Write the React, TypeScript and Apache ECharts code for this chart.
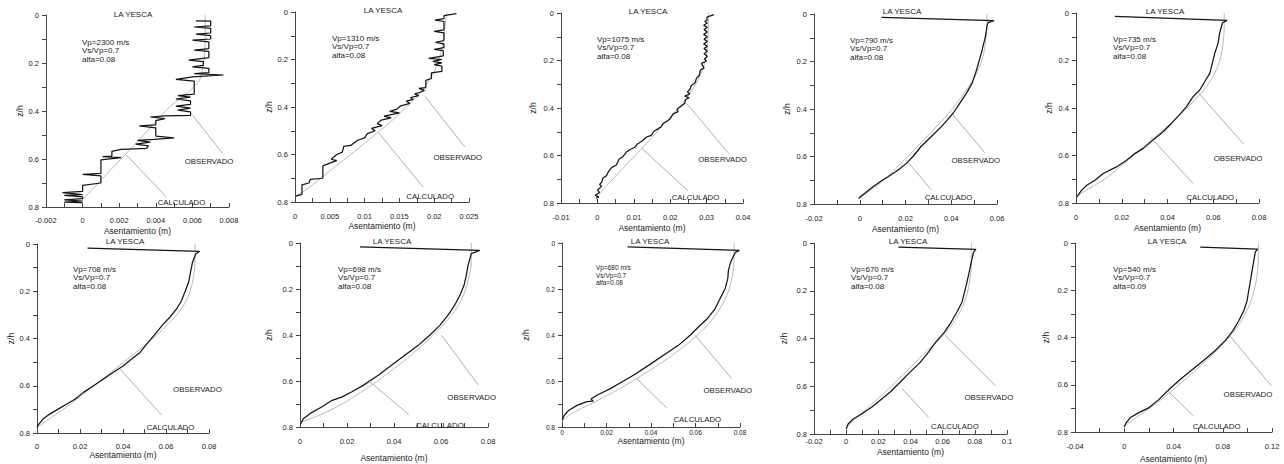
import React, { useEffect, useRef } from "react";
import * as echarts from "echarts";

// ---------- DATA ----------
const vpValues = ["2300", "1310", "1075", "790", "735", "708", "698", "680", "670", "540"];
const vsVp = "0.7";
const alfaValues = ["0.08", "0.08", "0.08", "0.08", "0.08", "0.08", "0.08", "0.08", "0.08", "0.09"];
const siteName = "LA YESCA";
const xAxisName = "Asentamiento (m)";
const yAxisName = "z/h";
const obsName = "OBSERVADO";
const calcName = "CALCULADO";

const xMins = [-0.002, 0, -0.01, -0.02, 0, 0, 0, 0, -0.02, -0.04];
const xMaxs = [0.008, 0.025, 0.04, 0.06, 0.08, 0.08, 0.08, 0.08, 0.1, 0.12];
const xSteps = [0.002, 0.005, 0.01, 0.02, 0.02, 0.02, 0.02, 0.02, 0.02, 0.04];
const yMin = 0;
const yMax = 0.8;
const yStep = 0.2;

const obs1 = [[0.0062,0.024],[0.0070,0.026],[0.0070,0.045],[0.0061,0.050],[0.0070,0.056],[0.0070,0.075],[0.0062,0.080],[0.0070,0.086],[0.0070,0.100],[0.0060,0.105],[0.0069,0.112],[0.0069,0.140],[0.0061,0.146],[0.0069,0.152],[0.0069,0.178],[0.0058,0.188],[0.0066,0.194],[0.0066,0.210],[0.0060,0.216],[0.0069,0.222],[0.0069,0.240],[0.0061,0.244],[0.0077,0.250],[0.0060,0.258],[0.0051,0.268],[0.0061,0.276],[0.0061,0.330],[0.0052,0.336],[0.0059,0.342],[0.0051,0.350],[0.0059,0.358],[0.0059,0.372],[0.0051,0.380],[0.0059,0.388],[0.0052,0.396],[0.0059,0.404],[0.0059,0.418],[0.0045,0.420],[0.0037,0.425],[0.0045,0.432],[0.0040,0.440],[0.0040,0.458],[0.0031,0.462],[0.0040,0.470],[0.0040,0.505],[0.0050,0.512],[0.0039,0.518],[0.0030,0.522],[0.0037,0.530],[0.0029,0.538],[0.0036,0.545],[0.0035,0.556],[0.0021,0.560],[0.0016,0.568],[0.0016,0.588],[0.0011,0.590],[0.0021,0.594],[0.0010,0.604],[0.0010,0.660],[0.0000,0.664],[0.0010,0.670],[0.0010,0.700],[0.0000,0.710],[0.0000,0.735],[-0.0011,0.740],[0.0000,0.748],[-0.0010,0.752],[0.0000,0.758],[0.0000,0.765],[-0.0010,0.770],[0.0000,0.775],[-0.0010,0.780],[0.0000,0.782]];
const calc1 = [[0.0067,0],[0.0067,0.1],[0.0066,0.2],[0.0064,0.27],[0.0058,0.32],[0.0048,0.38],[0.0037,0.47],[0.0026,0.56],[0.00135,0.66],[0,0.77]];

const obs2 = [[0.0232,0.007],[0.0214,0.015],[0.0214,0.028],[0.0201,0.034],[0.0214,0.040],[0.0214,0.075],[0.0200,0.082],[0.0214,0.088],[0.0214,0.120],[0.0202,0.128],[0.0214,0.134],[0.0214,0.150],[0.0200,0.157],[0.0213,0.163],[0.0213,0.185],[0.0192,0.195],[0.0211,0.200],[0.0198,0.208],[0.0211,0.214],[0.0200,0.222],[0.0211,0.228],[0.0211,0.250],[0.0196,0.256],[0.0196,0.280],[0.0188,0.288],[0.0188,0.318],[0.0178,0.322],[0.0186,0.330],[0.0180,0.338],[0.0172,0.345],[0.0178,0.352],[0.0166,0.360],[0.0170,0.368],[0.0160,0.375],[0.0165,0.385],[0.0152,0.395],[0.0146,0.410],[0.0136,0.418],[0.0150,0.425],[0.0128,0.438],[0.0138,0.446],[0.0124,0.455],[0.0118,0.470],[0.0125,0.478],[0.0110,0.490],[0.0115,0.500],[0.0104,0.512],[0.0100,0.530],[0.0090,0.540],[0.0080,0.562],[0.0070,0.566],[0.0068,0.590],[0.0060,0.600],[0.0052,0.620],[0.0060,0.626],[0.0052,0.634],[0.0040,0.648],[0.0040,0.700],[0.0022,0.705],[0.0020,0.720],[0.0010,0.728],[0.0010,0.768],[0.0000,0.776]];
const calc2 = [[0.0218,0],[0.0216,0.05],[0.0214,0.1],[0.0211,0.15],[0.0207,0.2],[0.0200,0.25],[0.0190,0.3],[0.0177,0.35],[0.0160,0.4],[0.0142,0.45],[0.0122,0.5],[0.0101,0.55],[0.0080,0.6],[0.0058,0.65],[0.0037,0.7],[0.0015,0.75],[0,0.775]];

const obs3 = [[0.0320,0.007],[0.0301,0.017],[0.0301,0.030],[0.0295,0.036],[0.0302,0.042],[0.0292,0.052],[0.0302,0.060],[0.0293,0.070],[0.0302,0.080],[0.0292,0.090],[0.0302,0.100],[0.0293,0.110],[0.0302,0.120],[0.0292,0.130],[0.0302,0.140],[0.0293,0.150],[0.0302,0.160],[0.0293,0.172],[0.0302,0.182],[0.0294,0.194],[0.0300,0.202],[0.0286,0.212],[0.0293,0.232],[0.0283,0.240],[0.0280,0.262],[0.0272,0.275],[0.0268,0.295],[0.0258,0.305],[0.0254,0.322],[0.0247,0.332],[0.0254,0.340],[0.0240,0.350],[0.0252,0.357],[0.0242,0.365],[0.0240,0.380],[0.0225,0.398],[0.0218,0.405],[0.0222,0.415],[0.0208,0.425],[0.0200,0.445],[0.0192,0.455],[0.0180,0.465],[0.0176,0.478],[0.0164,0.490],[0.0155,0.498],[0.0148,0.515],[0.0135,0.522],[0.0124,0.538],[0.0110,0.552],[0.0103,0.565],[0.0090,0.575],[0.0080,0.585],[0.0070,0.605],[0.0060,0.615],[0.0052,0.640],[0.0040,0.650],[0.0030,0.668],[0.0025,0.685],[0.0015,0.695],[0.0012,0.712],[0.0006,0.722],[0.0012,0.730],[0.0000,0.745],[0.0006,0.755],[-0.0006,0.768],[0.0004,0.775],[-0.0004,0.780]];
const calc3 = [[0.0305,0],[0.0304,0.1],[0.0297,0.2],[0.0280,0.27],[0.0258,0.33],[0.0228,0.39],[0.0193,0.45],[0.0158,0.51],[0.0122,0.57],[0.0085,0.63],[0.0048,0.69],[0.0015,0.745],[0,0.775]];

const obs4 = [[0.0095,0.014],[0.0587,0.028],[0.0561,0.036],[0.0556,0.050],[0.0554,0.067],[0.0550,0.090],[0.0546,0.110],[0.0540,0.130],[0.0535,0.152],[0.0525,0.187],[0.0518,0.210],[0.0506,0.250],[0.0491,0.292],[0.0466,0.334],[0.0437,0.376],[0.0408,0.418],[0.0383,0.446],[0.0357,0.474],[0.0313,0.516],[0.0267,0.559],[0.0233,0.600],[0.0204,0.629],[0.0168,0.657],[0.0124,0.685],[0.0100,0.699],[0.0058,0.727],[0.0022,0.755],[0.0000,0.772],[-0.0004,0.778]];
const calc4 = [[0.0556,0],[0.0556,0.05],[0.0552,0.1],[0.0545,0.15],[0.0532,0.2],[0.0510,0.25],[0.0480,0.3],[0.0444,0.35],[0.0405,0.4],[0.0358,0.45],[0.0310,0.5],[0.0260,0.55],[0.0210,0.6],[0.0158,0.65],[0.0105,0.7],[0.0050,0.74],[0,0.775]];

const obs5 = [[0.0170,0.014],[0.0660,0.031],[0.0640,0.042],[0.0635,0.060],[0.0628,0.085],[0.0621,0.127],[0.0607,0.169],[0.0596,0.211],[0.0585,0.254],[0.0567,0.282],[0.0541,0.324],[0.0512,0.352],[0.0483,0.394],[0.0451,0.430],[0.0417,0.465],[0.0381,0.500],[0.0337,0.535],[0.0294,0.570],[0.0257,0.592],[0.0221,0.620],[0.0177,0.648],[0.0119,0.676],[0.0083,0.704],[0.0047,0.725],[0.0025,0.746],[0.0003,0.775]];
const calc5 = [[0.0648,0],[0.0648,0.05],[0.0646,0.1],[0.0640,0.15],[0.0628,0.2],[0.0608,0.25],[0.0578,0.3],[0.0535,0.35],[0.0485,0.4],[0.0430,0.45],[0.0372,0.5],[0.0312,0.55],[0.0252,0.6],[0.0190,0.65],[0.0125,0.7],[0.0055,0.74],[0,0.775]];

const obs6 = [[0.0235,0.017],[0.0757,0.031],[0.0738,0.042],[0.0723,0.078],[0.0714,0.120],[0.0705,0.162],[0.0687,0.205],[0.0672,0.240],[0.0649,0.275],[0.0618,0.310],[0.0587,0.339],[0.0556,0.374],[0.0517,0.416],[0.0479,0.459],[0.0440,0.487],[0.0402,0.515],[0.0355,0.543],[0.0309,0.571],[0.0263,0.600],[0.0216,0.628],[0.0178,0.656],[0.0139,0.677],[0.0100,0.698],[0.0059,0.720],[0.0028,0.741],[0.0009,0.762],[0.0000,0.776]];
const calc6 = [[0.0735,0],[0.0735,0.05],[0.0733,0.1],[0.0726,0.15],[0.0712,0.2],[0.0688,0.25],[0.0650,0.3],[0.0598,0.35],[0.0538,0.4],[0.0472,0.45],[0.0403,0.5],[0.0335,0.55],[0.0265,0.6],[0.0195,0.65],[0.0122,0.7],[0.0050,0.745],[0,0.776]];

const obs7 = [[0.0255,0.017],[0.0765,0.032],[0.0729,0.046],[0.0715,0.097],[0.0708,0.140],[0.0698,0.184],[0.0680,0.228],[0.0658,0.271],[0.0630,0.314],[0.0595,0.358],[0.0552,0.401],[0.0503,0.445],[0.0446,0.488],[0.0389,0.532],[0.0333,0.575],[0.0269,0.619],[0.0219,0.648],[0.0177,0.670],[0.0137,0.684],[0.0092,0.713],[0.0042,0.742],[0.0014,0.764],[0.0003,0.786]];
const calc7 = [[0.0729,0],[0.0728,0.1],[0.0718,0.15],[0.0705,0.2],[0.0685,0.25],[0.0655,0.3],[0.0615,0.35],[0.0568,0.4],[0.0515,0.45],[0.0458,0.5],[0.0395,0.55],[0.0330,0.6],[0.0258,0.65],[0.0180,0.7],[0.0080,0.75],[0,0.78]];

const obs8 = [[0.0295,0.017],[0.0797,0.032],[0.0778,0.042],[0.0758,0.083],[0.0748,0.119],[0.0745,0.155],[0.0733,0.199],[0.0710,0.242],[0.0688,0.286],[0.0653,0.329],[0.0613,0.365],[0.0576,0.401],[0.0523,0.445],[0.0456,0.488],[0.0389,0.532],[0.0321,0.575],[0.0269,0.604],[0.0217,0.633],[0.0157,0.662],[0.0130,0.678],[0.0140,0.688],[0.0112,0.690],[0.0067,0.706],[0.0030,0.728],[0.0010,0.749],[0.0001,0.771]];
const calc8 = [[0.0773,0],[0.0772,0.1],[0.0764,0.15],[0.0752,0.2],[0.0730,0.25],[0.0700,0.3],[0.0660,0.35],[0.0610,0.4],[0.0548,0.45],[0.0478,0.5],[0.0400,0.55],[0.0318,0.6],[0.0228,0.65],[0.0130,0.7],[0.0045,0.74],[0,0.775]];

const obs9 = [[0.0324,0.017],[0.0807,0.027],[0.0792,0.038],[0.0778,0.080],[0.0765,0.122],[0.0751,0.164],[0.0736,0.206],[0.0720,0.248],[0.0688,0.290],[0.0653,0.331],[0.0611,0.373],[0.0557,0.415],[0.0512,0.457],[0.0460,0.500],[0.0397,0.541],[0.0335,0.583],[0.0272,0.625],[0.0210,0.660],[0.0158,0.688],[0.0096,0.716],[0.0044,0.737],[0.0012,0.758],[0.0000,0.779]];
const calc9 = [[0.0778,0],[0.0778,0.1],[0.0770,0.15],[0.0757,0.2],[0.0733,0.25],[0.0699,0.3],[0.0648,0.35],[0.0585,0.4],[0.0505,0.45],[0.0432,0.5],[0.0355,0.55],[0.0280,0.6],[0.0200,0.65],[0.0118,0.7],[0.0050,0.74],[0,0.775]];

const obs10 = [[0.0617,0.017],[0.1084,0.026],[0.1064,0.038],[0.1051,0.079],[0.1037,0.121],[0.1024,0.163],[0.1010,0.205],[0.0997,0.246],[0.0970,0.288],[0.0929,0.330],[0.0883,0.371],[0.0820,0.413],[0.0739,0.455],[0.0644,0.497],[0.0549,0.538],[0.0449,0.580],[0.0359,0.622],[0.0278,0.664],[0.0197,0.698],[0.0115,0.719],[0.0047,0.740],[0.0015,0.761],[0.0000,0.779]];
const calc10 = [[0.1090,0],[0.1090,0.05],[0.1086,0.1],[0.1075,0.15],[0.1055,0.2],[0.1025,0.25],[0.0983,0.3],[0.0925,0.35],[0.0850,0.4],[0.0760,0.45],[0.0660,0.5],[0.0555,0.55],[0.0445,0.6],[0.0330,0.65],[0.0205,0.7],[0.0080,0.745],[0,0.775]];

const observed = [obs1, obs2, obs3, obs4, obs5, obs6, obs7, obs8, obs9, obs10];
const calculated = [calc1, calc2, calc3, calc4, calc5, calc6, calc7, calc8, calc9, calc10];

// annotation anchor points (data coordinates)
const obsLeaders = [
  [[0.0060, 0.417], [0.00764, 0.575]],
  [[0.0187, 0.356], [0.0244, 0.568]],
  [[0.0245, 0.38], [0.0362, 0.594]],
  [[0.0408, 0.425], [0.0549, 0.587]],
  [[0.053, 0.331], [0.0733, 0.552]],
  [[0.061, 0.339], [0.0806, 0.543]],
  [[0.0602, 0.401], [0.076, 0.619]],
  [[0.0598, 0.401], [0.0763, 0.59]],
  [[0.0616, 0.387], [0.0928, 0.597]],
  [[0.0856, 0.392], [0.1195, 0.605]],
];
const calcLeaders = [
  [[0.0024, 0.584], [0.00458, 0.758]],
  [[0.012, 0.508], [0.0184, 0.737]],
  [[0.0122, 0.57], [0.0249, 0.749]],
  [[0.0204, 0.615], [0.0313, 0.741]],
  [[0.0327, 0.524], [0.0512, 0.718]],
  [[0.0386, 0.529], [0.0579, 0.724]],
  [[0.029, 0.597], [0.0463, 0.746]],
  [[0.0336, 0.59], [0.0471, 0.717]],
  [[0.0349, 0.611], [0.0512, 0.73]],
  [[0.0346, 0.622], [0.0563, 0.733]],
];
const obsLabelAt = [[0.00558, 0.612], [0.0199, 0.613], [0.0277, 0.617], [0.0401, 0.615], [0.0602, 0.613], [0.0633, 0.614], [0.0627, 0.67], [0.0636, 0.641], [0.0736, 0.646], [0.0807, 0.643]];
const calcLabelAt = [[0.0041, 0.78], [0.016, 0.776], [0.0204, 0.777], [0.0284, 0.772], [0.0483, 0.777], [0.051, 0.776], [0.0494, 0.795], [0.0501, 0.767], [0.0528, 0.768], [0.0557, 0.778]];

// ---------- LAYOUT (pixels) ----------
const layout = [
  { left: 46, top: 15, w: 183, h: 192, yGap: 12, xGap: 19, xMargin: 9, tick: 7.5, title: [133, 14], params: [82, 42], pFont: 8 },
  { left: 295, top: 12, w: 174, h: 190, yGap: 22, xGap: 19, xMargin: 10, tick: 7.5, title: [383, 10], params: [332, 38], pFont: 8 },
  { left: 561, top: 13, w: 182, h: 190, yGap: 24, xGap: 20, xMargin: 10, tick: 7.5, title: [648, 11], params: [597, 39], pFont: 8 },
  { left: 814, top: 14, w: 183, h: 190, yGap: 23, xGap: 20, xMargin: 10, tick: 7.5, title: [902, 11], params: [850, 40], pFont: 8 },
  { left: 1076, top: 13, w: 183, h: 190, yGap: 23, xGap: 20, xMargin: 10, tick: 7.5, title: [1165, 11], params: [1113, 39], pFont: 8 },
  { left: 37, top: 244, w: 172, h: 189, yGap: 22, xGap: 17, xMargin: 9, tick: 7.5, title: [125, 241], params: [73, 269], pFont: 8 },
  { left: 300, top: 243, w: 188, h: 184, yGap: 27, xGap: 26, xMargin: 10, tick: 7.5, title: [392, 241], params: [338, 269], pFont: 8 },
  { left: 562, top: 243, w: 178, h: 184, yGap: 32, xGap: 7, xMargin: 2, tick: 6.5, title: [650, 241], params: [596, 268], pFont: 6.5 },
  { left: 814, top: 243, w: 193, h: 191, yGap: 26, xGap: 13, xMargin: 3, tick: 7.5, title: [908, 241], params: [851, 269], pFont: 8 },
  { left: 1075, top: 243, w: 197, h: 192, yGap: 25, xGap: 22, xMargin: 10, tick: 7.5, title: [1167, 241], params: [1113, 269], pFont: 8 },
];

const FONT = "'Liberation Sans', Arial, sans-serif";
const AXIS_COLOR = "#444";
const TEXT_COLOR = "#222";

const fmt = (v: number) => String(parseFloat(Number(v).toPrecision(6)));

function buildOption() {
  const grid: any[] = [];
  const xAxis: any[] = [];
  const yAxis: any[] = [];
  const series: any[] = [];
  const graphic: any[] = [];

  layout.forEach((L, i) => {
    grid.push({ left: L.left, top: L.top, width: L.w, height: L.h, containLabel: false });
    xAxis.push({
      gridIndex: i,
      type: "value",
      min: xMins[i],
      max: xMaxs[i],
      interval: xSteps[i],
      axisLine: { show: true, onZero: false, lineStyle: { color: AXIS_COLOR, width: 1 } },
      axisTick: { show: true, inside: true, length: 4, lineStyle: { color: AXIS_COLOR } },
      minorTick: { show: true, splitNumber: 2, length: 4, lineStyle: { color: AXIS_COLOR } },
      splitLine: { show: false },
      minorSplitLine: { show: false },
      axisLabel: { formatter: fmt, fontSize: L.tick, fontFamily: FONT, color: TEXT_COLOR, margin: L.xMargin },
      name: xAxisName,
      nameLocation: "middle",
      nameGap: L.xGap,
      nameTextStyle: { fontSize: 8.5, fontFamily: FONT, color: TEXT_COLOR },
    });
    yAxis.push({
      gridIndex: i,
      type: "value",
      inverse: true,
      min: yMin,
      max: yMax,
      interval: yStep,
      axisLine: { show: true, onZero: false, lineStyle: { color: AXIS_COLOR, width: 1 } },
      axisTick: { show: true, inside: false, length: 4, lineStyle: { color: AXIS_COLOR } },
      minorTick: { show: true, splitNumber: 2, length: 4, lineStyle: { color: AXIS_COLOR } },
      splitLine: { show: false },
      minorSplitLine: { show: false },
      axisLabel: { formatter: fmt, fontSize: L.tick, fontFamily: FONT, color: TEXT_COLOR, margin: 7 },
      name: yAxisName,
      nameLocation: "middle",
      nameRotate: 90,
      nameGap: L.yGap,
      nameTextStyle: { fontSize: 8.5, fontFamily: FONT, color: TEXT_COLOR },
    });

    const leaderStyle = { color: "#9a9a9a", width: 0.8, type: "solid" };
    const labelStyle = {
      show: true,
      position: "inside",
      align: "left",
      verticalAlign: "middle",
      fontSize: 7.8,
      fontFamily: FONT,
      color: TEXT_COLOR,
      formatter: "{b}",
    };

    series.push({
      type: "line",
      name: calcName + " " + (i + 1),
      xAxisIndex: i,
      yAxisIndex: i,
      data: calculated[i],
      showSymbol: false,
      smooth: 0.3,
      lineStyle: { color: "#b9b9b9", width: 1 },
      z: 2,
      markLine: {
        silent: true,
        symbol: ["none", "none"],
        lineStyle: leaderStyle,
        label: { show: false },
        data: [[{ coord: calcLeaders[i][0] }, { coord: calcLeaders[i][1] }]],
      },
      markPoint: {
        silent: true,
        symbol: "circle",
        symbolSize: 1,
        itemStyle: { color: "rgba(0,0,0,0)" },
        label: labelStyle,
        data: [{ name: calcName, coord: calcLabelAt[i] }],
      },
    });
    series.push({
      type: "line",
      name: obsName + " " + (i + 1),
      xAxisIndex: i,
      yAxisIndex: i,
      data: observed[i],
      showSymbol: false,
      lineStyle: { color: "#151515", width: 1.25 },
      z: 3,
      markLine: {
        silent: true,
        symbol: ["none", "none"],
        lineStyle: leaderStyle,
        label: { show: false },
        data: [[{ coord: obsLeaders[i][0] }, { coord: obsLeaders[i][1] }]],
      },
      markPoint: {
        silent: true,
        symbol: "circle",
        symbolSize: 1,
        itemStyle: { color: "rgba(0,0,0,0)" },
        label: labelStyle,
        data: [{ name: obsName, coord: obsLabelAt[i] }],
      },
    });

    graphic.push({
      type: "text",
      x: L.title[0],
      y: L.title[1],
      style: { text: siteName, fontSize: 8, fontFamily: FONT, fill: TEXT_COLOR, align: "center", verticalAlign: "middle" },
      z: 10,
    });
    const lh = L.pFont + 0.8;
    graphic.push({
      type: "text",
      x: L.params[0],
      y: L.params[1] - lh / 2,
      style: {
        text: `Vp=${vpValues[i]} m/s\nVs/Vp=${vsVp}\nalfa=${alfaValues[i]}`,
        fontSize: L.pFont,
        lineHeight: lh,
        fontFamily: FONT,
        fill: TEXT_COLOR,
        align: "left",
        verticalAlign: "top",
      },
      z: 10,
    });
  });

  return {
    animation: false,
    backgroundColor: "#ffffff",
    grid,
    xAxis,
    yAxis,
    series,
    graphic,
  };
}

export default function App() {
  const ref = useRef<HTMLDivElement>(null);
  useEffect(() => {
    if (!ref.current) return;
    const chart = echarts.init(ref.current, null, { renderer: "svg" });
    chart.setOption(buildOption() as any);
    return () => chart.dispose();
  }, []);
  return (
    <div
      ref={ref}
      style={{ position: "absolute", left: 0, top: 0, width: 1284, height: 464, background: "#fff" }}
    />
  );
}
